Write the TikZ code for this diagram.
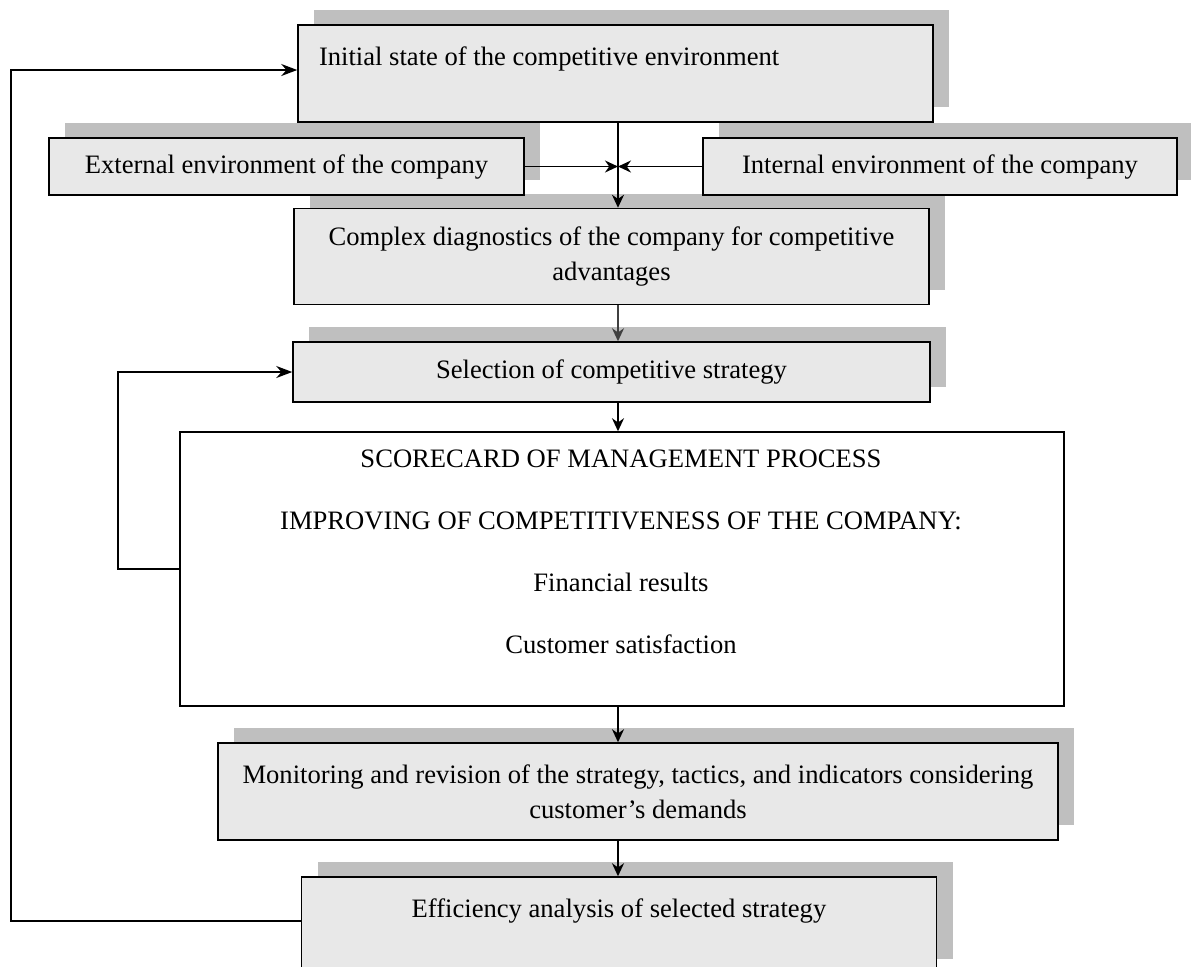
\documentclass[tikz,border=0pt]{standalone}
\usepackage{fontspec}
\setmainfont{Liberation Serif}
\usetikzlibrary{positioning, arrows.meta, shadows}

\tikzset{
    greybox/.style={draw, line width=0.75pt, fill=black!9, inner sep=0pt, align=center,
        drop shadow={shadow xshift=8pt, shadow yshift=7.5pt, fill=black!25, opacity=1}},
    flow/.style={line width=0.85pt, -{Stealth[length=6.5pt, width=6pt]}},
    loopback/.style={line width=0.9pt, -{Stealth[length=8pt, width=6pt]}}
}

\begin{document}
\begin{tikzpicture}[x=0.5pt, y=-0.5pt, font=\fontsize{13.3}{17.5}\selectfont]
    \useasboundingbox (0,0) rectangle (1191,966);
    \coordinate (spine) at (618,0);
    \coordinate (railA) at (11,0);
    \coordinate (railB) at (118,0);

    \node[greybox, minimum width=317.5pt, minimum height=48pt] (diag) at (611.5,256.5)
        {Complex diagnostics of the company for competitive\\advantages};
    \node[greybox, minimum width=237.5pt, minimum height=28.5pt] (ext) at (286.5,166.5)
        {External environment of the company};
    \node[greybox, minimum width=237pt, minimum height=28.5pt] (intl) at (940,166.5)
        {Internal environment of the company};
    \node[greybox, minimum width=317.5pt, minimum height=48.5pt, text width=296.5pt, align=flush left] (init) at (615.5,73.5)
        {Initial state of the competitive environment\\ \mbox{}};
    \node[greybox, minimum width=318.5pt, minimum height=30pt] (sel) at (611.5,372)
        {Selection of competitive strategy};
    \node[draw, line width=0.75pt, fill=white, minimum width=442pt, minimum height=137pt] (score) at (622,569) {};
    \node[align=center, font=\fontsize{13.3}{31}\selectfont] (scoretxt) at (621,551.5)
        {SCORECARD OF MANAGEMENT PROCESS\\IMPROVING OF COMPETITIVENESS OF THE COMPANY:\\Financial results\\Customer satisfaction};
    \node[greybox, minimum width=420pt, minimum height=48.5pt] (mon) at (638,791.5)
        {Monitoring and revision of the strategy, tactics, and indicators considering\\customer’s demands};
    \node[greybox, minimum width=317.5pt, minimum height=48.5pt] (eff) at (619,925.5)
        {Efficiency analysis of selected strategy\\ \mbox{}};

    % main flow
    \draw[flow] (init.south -| spine) -- (diag.north -| spine);
    \draw[flow] (ext.east) -- (ext.east -| spine);
    \draw[flow] (intl.west) -- (intl.west -| spine);
    \draw[flow, black!75] (diag.south -| spine) -- (sel.north -| spine);
    \draw[flow] (sel.south -| spine) -- (score.north -| spine);
    \draw[flow] (score.south -| spine) -- (mon.north -| spine);
    \draw[flow] (mon.south -| spine) -- (eff.north -| spine);

    % feedback loops
    \draw[loopback] (score.west) -- (score.west -| railB) -- (sel.west -| railB) -- (sel.west);
    \coordinate (effout) at ([yshift=2.25pt]eff.west);
    \coordinate (initin) at ([yshift=1.75pt]init.west);
    \draw[loopback] (effout) -- (effout -| railA) -- (initin -| railA) -- (initin);
\end{tikzpicture}
\end{document}
